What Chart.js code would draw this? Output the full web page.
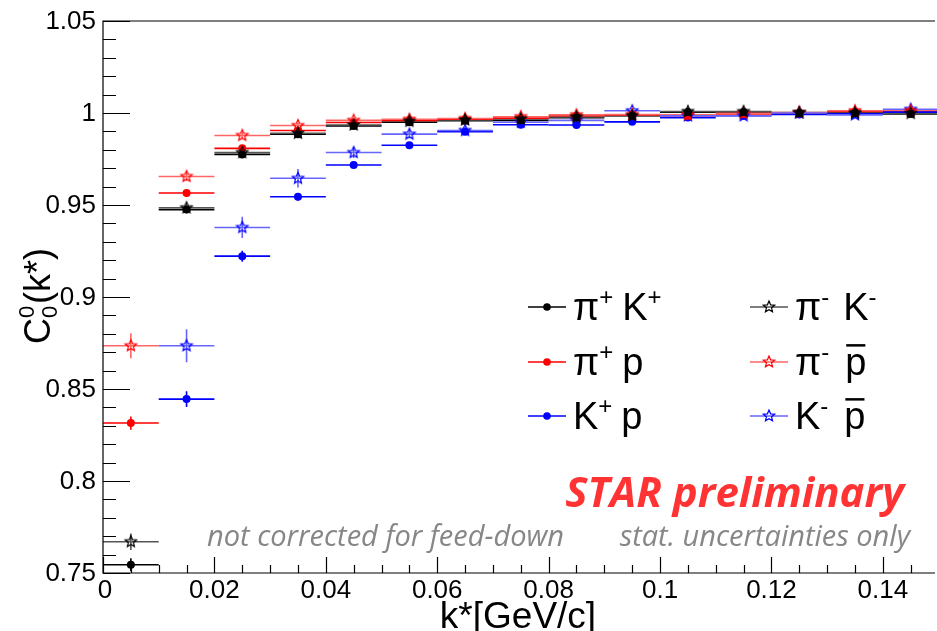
<!DOCTYPE html>
<html>
<head>
<meta charset="utf-8">
<script src="https://cdn.jsdelivr.net/npm/chart.js@4.4.1/dist/chart.umd.min.js"></script>
<style>
  html, body { margin: 0; padding: 0; background: #fff; }
  #wrap { width: 937px; height: 631px; position: relative; }
</style>
</head>
<body>
<div id="wrap"><canvas id="corrChart" width="937" height="631"></canvas></div>
<script>
// k* bin centres [GeV/c], bin half width
const kBins = [0.005, 0.015, 0.025, 0.035, 0.045, 0.055, 0.065, 0.075, 0.085, 0.095, 0.105, 0.115, 0.125, 0.135, 0.145];
const binHalf = 0.005;

// C0(k*) per pair
const piKplus  = [0.7545, 0.9475, 0.9775, 0.9885, 0.9930, 0.9950, 0.9958, 0.9960, 0.9975, 0.9985, 1.0005, 1.0005, 1.0000, 1.0002, 0.9995];
const piKminus = [0.7670, 0.9485, 0.9785, 0.9890, 0.9935, 0.9955, 0.9962, 0.9968, 0.9978, 0.9985, 1.0008, 1.0008, 1.0003, 1.0000, 0.9998];
const piPplus  = [0.8315, 0.9565, 0.9808, 0.9905, 0.9948, 0.9960, 0.9966, 0.9972, 0.9985, 0.9990, 0.9985, 0.9995, 1.0000, 1.0008, 1.0010];
const piPminus = [0.8735, 0.9655, 0.9878, 0.9932, 0.9960, 0.9966, 0.9970, 0.9980, 0.9990, 0.9992, 0.9990, 0.9998, 1.0003, 1.0012, 1.0012];
const kPplus   = [null, 0.8445, 0.9222, 0.9545, 0.9717, 0.9825, 0.9898, 0.9936, 0.9935, 0.9952, 0.9975, 0.9985, 0.9992, 0.9995, 1.0005];
const kPminus  = [null, 0.8735, 0.9378, 0.9645, 0.9785, 0.9885, 0.9905, 0.9950, 0.9960, 1.0012, 0.9985, 0.9985, 1.0000, 0.9990, 1.0020];

// statistical errors
const piKplusErr  = [0.0035, 0.0020, 0.0015, 0.0010, 0.0010, 0.0008, 0.0008, 0.0007, 0.0007, 0.0007, 0.0007, 0.0007, 0.0007, 0.0007, 0.0007];
const piKminusErr = [0.0045, 0.0020, 0.0016, 0.0012, 0.0010, 0.0008, 0.0008, 0.0007, 0.0007, 0.0007, 0.0007, 0.0007, 0.0007, 0.0007, 0.0007];
const piPplusErr  = [0.0036, 0.0018, 0.0014, 0.0010, 0.0009, 0.0008, 0.0007, 0.0007, 0.0007, 0.0007, 0.0007, 0.0007, 0.0007, 0.0007, 0.0007];
const piPminusErr = [0.0068, 0.0025, 0.0018, 0.0014, 0.0012, 0.0010, 0.0009, 0.0008, 0.0008, 0.0008, 0.0008, 0.0008, 0.0008, 0.0008, 0.0008];
const kPplusErr   = [null, 0.0043, 0.0030, 0.0020, 0.0016, 0.0012, 0.0010, 0.0009, 0.0009, 0.0009, 0.0009, 0.0009, 0.0009, 0.0009, 0.0009];
const kPminusErr  = [null, 0.0090, 0.0058, 0.0050, 0.0030, 0.0022, 0.0018, 0.0015, 0.0012, 0.0012, 0.0012, 0.0012, 0.0010, 0.0010, 0.0010];

// axis
const xMin = 0, xMax = 0.149;
const yMin = 0.75, yMax = 1.05;
const xTickValues = [0, 0.02, 0.04, 0.06, 0.08, 0.1, 0.12, 0.14];
const xTickLabels = ['0', '0.02', '0.04', '0.06', '0.08', '0.1', '0.12', '0.14'];
const yTickValues = [0.75, 0.8, 0.85, 0.9, 0.95, 1, 1.05];
const yTickLabels = ['0.75', '0.8', '0.85', '0.9', '0.95', '1', '1.05'];

// open star marker, drawn once per colour
function makeStar(color, r) {
    const c = document.createElement('canvas');
    const s = Math.ceil(r * 2 + 4);
    c.width = s; c.height = s;
    const g = c.getContext('2d');
    g.strokeStyle = color;
    g.lineWidth = 1.2;
    g.beginPath();
    for (let i = 0; i < 10; i++) {
        const rad = i % 2 === 0 ? r : r * 0.45;
        const a = -Math.PI / 2 + i * Math.PI / 5;
        const px = s / 2 + rad * Math.cos(a), py = s / 2 + rad * Math.sin(a);
        if (i === 0) g.moveTo(px, py); else g.lineTo(px, py);
    }
    g.closePath();
    g.stroke();
    return c;
}

function toPoints(vals, errs) {
    const pts = [];
    kBins.forEach((k, i) => {
        if (vals[i] !== null) pts.push({ x: k, y: vals[i], e: errs[i] });
    });
    return pts;
}

const series = [
    { label: 'π+ K+', vals: piKplus,  errs: piKplusErr,  color: '#000000', bar: '#000000', star: false },
    { label: 'π- K-', vals: piKminus, errs: piKminusErr, color: '#000000', bar: '#555555', star: true },
    { label: 'π+ p',  vals: piPplus,  errs: piPplusErr,  color: '#ff0000', bar: '#ff0000', star: false },
    { label: 'π- p̄',  vals: piPminus, errs: piPminusErr, color: '#ff0000', bar: '#ff6666', star: true },
    { label: 'K+ p',  vals: kPplus,   errs: kPplusErr,   color: '#0000ff', bar: '#0000ff', star: false },
    { label: 'K- p̄',  vals: kPminus,  errs: kPminusErr,  color: '#0000ff', bar: '#6666ff', star: true }
];

const datasets = series.map(s => ({
    label: s.label,
    data: toPoints(s.vals, s.errs),
    showLine: false,
    backgroundColor: s.color,
    borderColor: s.color,
    barColor: s.bar,
    pointStyle: s.star ? makeStar(s.color, 6) : 'circle',
    pointRadius: 4,
    pointBorderWidth: 0
}));

// horizontal bin-width bars and vertical stat. errors
const errorBars = {
    id: 'errorBars',
    beforeDatasetsDraw(chart) {
        const { ctx, scales: { x, y } } = chart;
        ctx.save();
        chart.data.datasets.forEach(ds => {
            ctx.strokeStyle = ds.barColor;
            ctx.lineWidth = 1.6;
            ds.data.forEach(p => {
                const px = x.getPixelForValue(p.x);
                const py = y.getPixelForValue(p.y);
                ctx.beginPath();
                ctx.moveTo(x.getPixelForValue(p.x - binHalf), py);
                ctx.lineTo(Math.min(x.getPixelForValue(p.x + binHalf), chart.width), py);
                ctx.moveTo(px, y.getPixelForValue(p.y - p.e));
                ctx.lineTo(px, y.getPixelForValue(p.y + p.e));
                ctx.stroke();
            });
        });
        ctx.restore();
    }
};

// draw a run of text pieces with super/subscripts, returns end x
function richText(ctx, x, y, parts, family) {
    parts.forEach(p => {
        ctx.font = (p.style || '') + ' ' + p.size + 'px ' + family;
        ctx.fillText(p.t, x, y + (p.dy || 0));
        const w = ctx.measureText(p.t).width;
        if (p.bar) {
            ctx.save();
            ctx.lineWidth = 2.5;
            ctx.beginPath();
            ctx.moveTo(x + 1, y - p.size * 0.78);
            ctx.lineTo(x + w - 1, y - p.size * 0.78);
            ctx.stroke();
            ctx.restore();
        }
        x += w + (p.gap || 0);
    });
    return x;
}

// ROOT style frame, inward ticks, labels, legend and notes
const rootFrame = {
    id: 'rootFrame',
    afterDraw(chart) {
        const { ctx, chartArea: a, scales: { x, y } } = chart;
        ctx.save();
        ctx.strokeStyle = '#000';
        ctx.lineWidth = 1.2;
        ctx.beginPath();
        ctx.moveTo(a.right + 2, a.top); ctx.lineTo(a.left, a.top);
        ctx.lineTo(a.left, a.bottom); ctx.lineTo(a.right + 2, a.bottom);
        ctx.stroke();

        // y ticks: major 0.05, minor 0.01
        ctx.beginPath();
        for (let i = 0; i <= 30; i++) {
            const v = yMin + i * 0.01;
            const py = Math.round(y.getPixelForValue(v)) + 0.5;
            const len = i % 5 === 0 ? 27 : 13;
            ctx.moveTo(a.left, py); ctx.lineTo(a.left + len, py);
        }
        // x ticks: major 0.02, minor 0.005
        for (let i = 0; i <= 30; i++) {
            const v = i * 0.005;
            if (v > xMax) break;
            const px = Math.round(x.getPixelForValue(v)) + 0.5;
            const len = i % 4 === 0 ? 16 : 8;
            ctx.moveTo(px, a.bottom); ctx.lineTo(px, a.bottom - len);
        }
        ctx.stroke();

        ctx.fillStyle = '#000';
        ctx.font = '26px "Liberation Sans", Arial, sans-serif';
        ctx.textAlign = 'right';
        ctx.textBaseline = 'middle';
        yTickValues.forEach((v, i) => {
            ctx.fillText(yTickLabels[i], a.left - 7, y.getPixelForValue(v) + 1);
        });
        ctx.font = '26px "Liberation Sans Narrow", "Liberation Sans", sans-serif';
        ctx.textAlign = 'center';
        ctx.textBaseline = 'top';
        xTickValues.forEach((v, i) => {
            ctx.fillText(xTickLabels[i], x.getPixelForValue(v) + (i === 0 ? 2 : 0), a.bottom + 5);
        });

        // axis titles
        ctx.font = '37px "Liberation Sans", Arial, sans-serif';
        ctx.textBaseline = 'alphabetic';
        ctx.fillText('k*[GeV/c]', (a.left + a.right) / 2, 628);

        ctx.save();
        ctx.translate(50, 296);
        ctx.rotate(-Math.PI / 2);
        ctx.textAlign = 'left';
        const fam = '"Liberation Sans", Arial, sans-serif';
        ctx.font = '36px ' + fam;
        const wC = ctx.measureText('C').width;
        const wR = ctx.measureText('(k*)').width;
        ctx.font = '22px ' + fam;
        const w0 = ctx.measureText('0').width;
        let tx = -(wC + w0 + 2 + wR) / 2;
        ctx.font = '36px ' + fam;
        ctx.fillText('C', tx, 0);
        tx += wC;
        ctx.font = '22px ' + fam;
        ctx.fillText('0', tx, -16);
        ctx.fillText('0', tx, 7);
        tx += w0 + 2;
        ctx.font = '36px ' + fam;
        ctx.fillText('(k*)', tx, 0);
        ctx.restore();

        // legend
        const rowY = [307, 362, 416];
        const legFam = '"Liberation Sans", Arial, sans-serif';
        const big = 38, sup = 24;
        const texts = [
            [{ t: 'π', size: big }, { t: '+', size: sup, dy: -15, gap: 9 }, { t: 'K', size: big }, { t: '+', size: sup, dy: -15 }],
            [{ t: 'π', size: big }, { t: '-', size: sup, dy: -15, gap: 14 }, { t: 'K', size: big }, { t: '-', size: sup, dy: -15 }],
            [{ t: 'π', size: big }, { t: '+', size: sup, dy: -15, gap: 9 }, { t: 'p', size: big }],
            [{ t: 'π', size: big }, { t: '-', size: sup, dy: -15, gap: 16 }, { t: 'p', size: big, bar: true }],
            [{ t: 'K', size: big }, { t: '+', size: sup, dy: -15, gap: 9 }, { t: 'p', size: big }],
            [{ t: 'K', size: big }, { t: '-', size: sup, dy: -15, gap: 16 }, { t: 'p', size: big, bar: true }]
        ];
        // left column circles, right column stars
        const slots = [[0, 0], [1, 0], [0, 1], [1, 1], [0, 2], [1, 2]];
        const colX = [528, 750];
        chart.data.datasets.forEach((ds, i) => {
            const [col, row] = slots[i];
            const lx = colX[col], ly = rowY[row];
            ctx.strokeStyle = ds.barColor;
            ctx.lineWidth = 1.6;
            ctx.beginPath();
            ctx.moveTo(lx, ly); ctx.lineTo(lx + 38, ly);
            ctx.stroke();
            if (typeof ds.pointStyle === 'string') {
                ctx.fillStyle = ds.backgroundColor;
                ctx.beginPath();
                ctx.arc(lx + 19, ly, 3.8, 0, Math.PI * 2);
                ctx.fill();
            } else {
                const img = ds.pointStyle;
                ctx.drawImage(img, lx + 19 - img.width / 2, ly - img.height / 2);
            }
            ctx.fillStyle = '#000';
            ctx.strokeStyle = '#000';
            ctx.textAlign = 'left';
            ctx.textBaseline = 'alphabetic';
            richText(ctx, lx + 45, ly + 13, texts[i], legFam);
        });

        // notes
        ctx.textAlign = 'right';
        ctx.fillStyle = '#ff3333';
        ctx.font = 'italic bold 42px "Open Sans", sans-serif';
        ctx.fillText('STAR preliminary', 904, 507);
        ctx.fillStyle = '#878787';
        ctx.font = 'italic 29px "Open Sans", sans-serif';
        ctx.fillText('stat. uncertainties only', 910, 546);
        ctx.textAlign = 'left';
        ctx.fillText('not corrected for feed-down', 207, 546);
        ctx.restore();
    }
};

document.addEventListener('DOMContentLoaded', function() {
    const ctx = document.getElementById('corrChart').getContext('2d');
    new Chart(ctx, {
        type: 'scatter',
        data: { datasets: datasets },
        options: {
            responsive: false,
            animation: false,
            layout: { padding: { left: 103, top: 21, right: 0, bottom: 58 } },
            plugins: {
                legend: { display: false },
                tooltip: { enabled: false }
            },
            scales: {
                x: { type: 'linear', min: xMin, max: xMax, display: false },
                y: { type: 'linear', min: yMin, max: yMax, display: false }
            }
        },
        plugins: [errorBars, rootFrame]
    });
});
</script>
</body>
</html>
